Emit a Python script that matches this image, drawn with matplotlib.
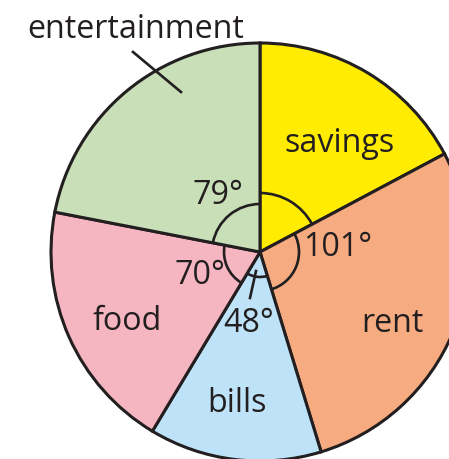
import matplotlib
matplotlib.use("Agg")
import matplotlib.pyplot as plt
from matplotlib.patches import Arc
import numpy as np

categories = ["savings", "rent", "bills", "food", "entertainment"]
angles = [62, 101, 48, 70, 79]
angle_labels = ["", "101°", "48°", "70°", "79°"]
colors = ["#FFEC00", "#F6AC80", "#BEE3F8", "#F6B6C1", "#C8DFB8"]

W, H = 449, 460
fig = plt.figure(figsize=(W / 100, H / 100), dpi=100)
ax = fig.add_axes([0, 0, 1, 1])
cx, cy, R = 260, H - 253, 209
txt = "#231F20"

ax.pie(angles, colors=colors, startangle=90, counterclock=False,
       center=(cx, cy), radius=R, frame=True,
       wedgeprops=dict(edgecolor=txt, linewidth=2.2))
ax.set_xlim(0, W)
ax.set_ylim(0, H)
ax.set_aspect("equal")
ax.axis("off")

# angle arcs
arc_r = [59, 39, 25, 36, 48]
start = 90
for a, r in zip(angles, arc_r):
    end = start - a
    ax.add_patch(Arc((cx, cy), 2 * r, 2 * r, theta1=end, theta2=start,
                     color=txt, lw=1.9))
    start = end

fs = 23.2
fam = ["Open Sans", "DejaVu Sans"]
def T(x, y, s):
    ax.text(x, H - y, s, fontsize=fs, color=txt, ha="center", va="center",
            family=fam)

T(340, 143, categories[0])
T(392, 324, categories[1])
T(237, 404, categories[2])
T(127, 321, categories[3])
T(136, 30, categories[4])
T(338, 248, angle_labels[1])
T(249, 323, angle_labels[2])
T(200, 276, angle_labels[3])
T(218, 195, angle_labels[4])

# leader lines
ax.plot([133, 181], [H - 53, H - 93], color=txt, lw=1.9)
ax.plot([256, 250], [H - 272, H - 299], color=txt, lw=1.9)

fig.savefig("out.png", dpi=100)
